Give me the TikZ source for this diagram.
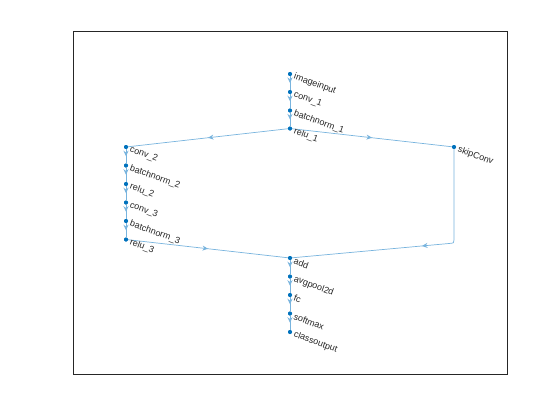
\documentclass[tikz,border=0pt]{standalone}
\usepackage{fontspec}
\setmainfont{Liberation Sans}
\usetikzlibrary{arrows.meta,decorations.markings}
\definecolor{nodeblue}{RGB}{0,114,189}
\definecolor{edgeblue}{RGB}{120,180,222}
\definecolor{axgray}{RGB}{38,38,38}
\begin{document}
\begin{tikzpicture}[x=1pt,y=-1pt,
  dot/.style={circle,fill=nodeblue,inner sep=0pt,minimum size=4pt},
  lbl/.style={anchor=west,rotate=-20,inner sep=0pt,font=\fontsize{9}{10}\selectfont,text=axgray},
  edge/.style={draw=edgeblue,line width=0.7pt,postaction={decorate},
    decoration={markings,mark=at position #1 with {\arrow{Stealth[length=5.5pt,width=5pt]}}}},
  edge/.default=0.5
]
\useasboundingbox (0,0) rectangle (560,420);
\fill[white] (0,0) rectangle (560,420);
\draw[axgray,line width=0.6pt] (72.8,31.5) rectangle (506.8,373.8);

% nodes
\node[dot] (imageinput) at (290,74) {};
\node[dot] (conv1) at (290,92) {};
\node[dot] (bn1) at (290,110.5) {};
\node[dot] (relu1) at (290,128.5) {};
\node[dot] (conv2) at (126,147) {};
\node[dot] (bn2) at (126,165.5) {};
\node[dot] (relu2) at (126,184) {};
\node[dot] (conv3) at (126,202.5) {};
\node[dot] (bn3) at (126,221) {};
\node[dot] (relu3) at (126,239.5) {};
\node[dot] (skip) at (454,147) {};
\node[dot] (add) at (290,258) {};
\node[dot] (avg) at (290,276.5) {};
\node[dot] (fc) at (290,295) {};
\node[dot] (softmax) at (290,313.5) {};
\node[dot] (classout) at (290,332) {};
\coordinate (corner) at (454,240);

% edges
\path[edge] (imageinput) -- (conv1);
\path[edge] (conv1) -- (bn1);
\path[edge] (bn1) -- (relu1);
\path[edge] (relu1) -- (conv2);
\path[edge] (relu1) -- (skip);
\path[edge] (conv2) -- (bn2);
\path[edge] (bn2) -- (relu2);
\path[edge] (relu2) -- (conv3);
\path[edge] (conv3) -- (bn3);
\path[edge] (bn3) -- (relu3);
\path[edge] (relu3) -- (add);
\path[edge=0.49] (skip) -- (corner) .. controls (454,243) .. (449,243.5) -- (add);
\path[edge] (add) -- (avg);
\path[edge] (avg) -- (fc);
\path[edge] (fc) -- (softmax);
\path[edge] (softmax) -- (classout);

% redraw dots on top
\foreach \n in {imageinput,conv1,bn1,relu1,conv2,bn2,relu2,conv3,bn3,relu3,skip,add,avg,fc,softmax,classout}
  \fill[nodeblue] (\n) circle (2pt);

% labels
\node[lbl] at ([shift={(4,2.5)}]imageinput) {imageinput};
\node[lbl] at ([shift={(4,2.5)}]conv1) {conv\_1};
\node[lbl] at ([shift={(4,2.5)}]bn1) {batchnorm\_1};
\node[lbl] at ([shift={(4,2.5)}]relu1) {relu\_1};
\node[lbl] at ([shift={(4,2.5)}]conv2) {conv\_2};
\node[lbl] at ([shift={(4,2.5)}]bn2) {batchnorm\_2};
\node[lbl] at ([shift={(4,2.5)}]relu2) {relu\_2};
\node[lbl] at ([shift={(4,2.5)}]conv3) {conv\_3};
\node[lbl] at ([shift={(4,2.5)}]bn3) {batchnorm\_3};
\node[lbl] at ([shift={(4,2.5)}]relu3) {relu\_3};
\node[lbl] at ([shift={(4,2.5)}]skip) {skipConv};
\node[lbl] at ([shift={(4,2.5)}]add) {add};
\node[lbl] at ([shift={(4,2.5)}]avg) {avgpool2d};
\node[lbl] at ([shift={(4,2.5)}]fc) {fc};
\node[lbl] at ([shift={(4,2.5)}]softmax) {softmax};
\node[lbl] at ([shift={(4,2.5)}]classout) {classoutput};
\end{tikzpicture}
\end{document}
